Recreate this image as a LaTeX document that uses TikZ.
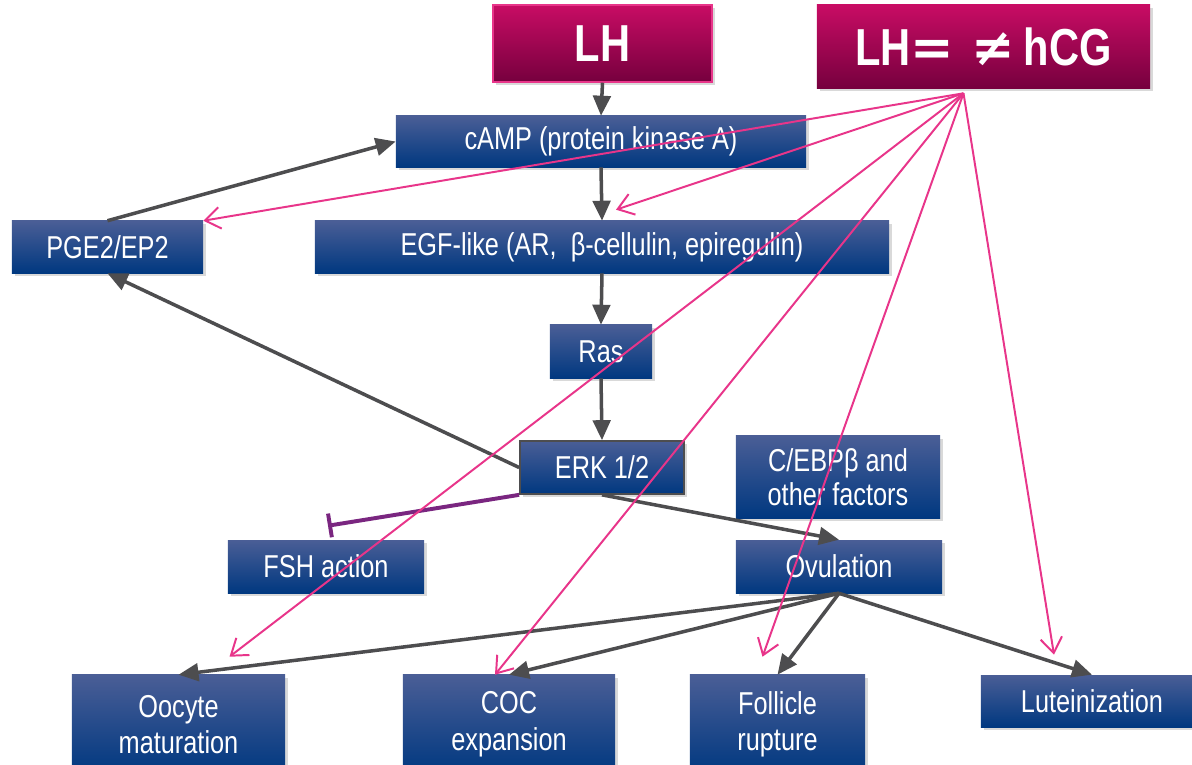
\documentclass[tikz,border=0pt]{standalone}
\usepackage{fontspec}
\setmainfont{Liberation Sans}[FakeStretch=0.8]
\newfontfamily\symfont{DejaVu Sans}
\usetikzlibrary{arrows.meta,shadows,calc}
\definecolor{boxtop}{RGB}{74,94,150}
\definecolor{boxbot}{RGB}{0,56,128}
\definecolor{magtop}{RGB}{200,12,100}
\definecolor{magbot}{RGB}{118,0,62}
\definecolor{lhpink}{RGB}{232,53,138}
\definecolor{flowgray}{RGB}{77,77,79}
\definecolor{blockpurple}{RGB}{122,38,128}
\begin{document}
\begin{tikzpicture}[x=0.025cm,y=-0.025cm,
		bluebox/.style={top color=boxtop,bottom color=boxbot,text=white,align=center,inner sep=0pt,
			font=\fontsize{22.5}{26}\selectfont,
			drop shadow={opacity=0.3,shadow xshift=0.08cm,shadow yshift=-0.08cm}},
		magbox/.style={top color=magtop,bottom color=magbot,text=white,inner sep=0pt,
			font=\fontsize{37}{40}\selectfont\bfseries,
			drop shadow={opacity=0.3,shadow xshift=0.08cm,shadow yshift=-0.08cm}},
		flow/.style={draw=flowgray,line width=2.5pt,-{Triangle[length=5mm,width=4.4mm]}},
		hcgline/.style={draw=lhpink,line width=1.4pt,-{Straight Barb[length=3.8mm,width=5.4mm]}},
		block/.style={draw=blockpurple,line width=2.8pt,-{Bar[width=6mm]}}]
			\useasboundingbox (0,0) rectangle (1192,764);
			% hormones
			\node[magbox,draw=lhpink,line width=1pt,minimum width=5.475cm,minimum height=1.925cm] (lh) at (602.5,43.5) {LH};
			\node[magbox,minimum width=8.325cm,minimum height=2.075cm] (hcg) at (983.5,46.5) {LH{\symfont\bfseries=}\,\,{\symfont\bfseries≠}\,hCG};
			% cascade
			\node[bluebox,minimum width=10.25cm,minimum height=1.275cm] (camp) at (601,141.5) {cAMP (protein kinase A)};
			\node[bluebox,minimum width=4.775cm,minimum height=1.3cm] (pge) at (107.5,247) {PGE2/EP2};
			\node[bluebox,minimum width=14.35cm,minimum height=1.3cm] (egf) at (602,247) {EGF-like (AR,\ \ β-cellulin, epiregulin)};
			\node[bluebox,minimum width=2.55cm,minimum height=1.325cm] (ras) at (601,351.5) {Ras};
			\node[bluebox,draw=flowgray,line width=1.2pt,minimum width=4.1cm,minimum height=1.325cm] (erk) at (602,467.5) {ERK 1/2};
			\node[bluebox,minimum width=5.1cm,minimum height=2.05cm] (cebp) at (838,477) {C/EBPβ and\\[-2pt]other factors};
			\node[bluebox,minimum width=4.9cm,minimum height=1.325cm] (fsh) at (326,566.5) {FSH action};
			\node[bluebox,minimum width=5.15cm,minimum height=1.325cm] (ovu) at (839,566.5) {Ovulation};
			% outcomes
			\node[bluebox,minimum width=5.325cm,minimum height=2.475cm] (oocyte) at (178.5,724.5) {Oocyte\\maturation};
			\node[bluebox,minimum width=5.3cm,minimum height=2.475cm] (coc) at (509,724.5) {COC\\expansion};
			\node[bluebox,minimum width=4.375cm,minimum height=2.475cm] (foll) at (777.5,724.5) {Follicle\\rupture};
			\node[bluebox,minimum width=5.55cm,minimum height=1.3cm] (lute) at (1092,701) {Luteinization};
			\draw[flow] (lh.south) -- (camp.north);
			\draw[flow] (camp.south) -- (egf.north);
			\draw[flow] (egf.south) -- (ras.north);
			\draw[flow] (ras.south) -- (erk.north);
			\draw[flow] (pge.north) -- (camp.west);
			\draw[flow] (erk.west) -- (pge.south);
			\draw[flow] (erk.south) -- (ovu.north);
			\draw[block] (erk.south west) -- ($(fsh.north)+(2,-14)$);
			\draw[flow] (ovu.south) -- (oocyte.north);
			\draw[flow] (ovu.south) -- (coc.north);
			\draw[flow] (ovu.south) -- (foll.north);
			\draw[flow] (ovu.south) -- (lute.north);
			% LH / hCG targets
			\coordinate (hsrc) at ($(hcg.south)+(-20,5)$);
			\draw[hcgline] (hsrc) -- (pge.north east);
			\draw[hcgline] (hsrc) -- ($(egf.north)+(14,-11)$);
			\draw[hcgline] (hsrc) -- ($(oocyte.north)+(51,-18)$);
			\draw[hcgline] (hsrc) -- ($(coc.north)+(-14,0)$);
			\draw[hcgline] (hsrc) -- ($(foll.north)+(-15,-18)$);
			\draw[hcgline] (hsrc) -- ($(lute.north)+(-38,-20)$);
		\end{tikzpicture}
\end{document}
